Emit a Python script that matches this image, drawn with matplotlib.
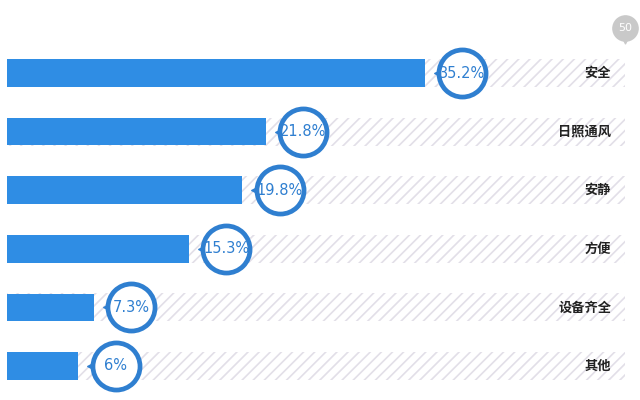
import matplotlib
matplotlib.use('Agg')
from matplotlib import pyplot as plt
from matplotlib.transforms import offset_copy

plt.rcParams['font.family'] = ['Noto Sans CJK SC', 'DejaVu Sans']
plt.rcParams['hatch.linewidth'] = 1.2

## Data ##
categories = ['安全', '日照通风', '安静', '方便', '设备齐全', '其他']
values = [35.2, 21.8, 19.8, 15.3, 7.3, 6]
value_labels = ['35.2%', '21.8%', '19.8%', '15.3%', '7.3%', '6%']
max_label = '50'

bar_color = '#2f8de4'
ring_color = '#2f7fd0'
hatch_color = '#e2dfe8'

## Plotting ##
fig = plt.figure(figsize=(6.4, 4.0), dpi=100)
ax = fig.add_axes([0, 0, 1, 1])
px = 11.87  # pixels per unit
ax.set_xlim(-7 / px, (640 - 7) / px)
row = 58.6
ax.set_ylim((400 - 73) / row, -73 / row)
ax.axis('off')

track_end = (625 - 7) / px
ys = list(range(len(values)))

# hatched background tracks
ax.barh(ys, [track_end] * len(ys), height=0.48, color='white',
        edgecolor=hatch_color, hatch='///', linewidth=0, zorder=1)

# value bars
ax.barh(ys, values, height=0.47, color=bar_color, zorder=2)

# circles with values
trans = offset_copy(ax.transData, fig=fig, x=27, y=0, units='points')
trans_tip = offset_copy(ax.transData, fig=fig, x=9.5, y=0, units='points')
ax.scatter(values, ys, s=1150, marker='o', facecolor='white',
           edgecolor=ring_color, linewidth=3.4, transform=trans, zorder=4)
ax.scatter(values, ys, s=30, marker='<', color=ring_color,
           transform=trans_tip, zorder=3)
for v, y, lab in zip(values, ys, value_labels):
    ax.text(v, y, lab, transform=trans, ha='center', va='center',
            fontsize=10.5, color=ring_color, family='DejaVu Sans', zorder=5)

# category labels
trans_lab = offset_copy(ax.transData, fig=fig, x=-10, y=0, units='points')
for y, c in zip(ys, categories):
    ax.text(track_end, y, c, transform=trans_lab, ha='right', va='center',
            fontsize=9.5, fontweight='bold', color='#222222', zorder=5)

# max marker
ax.scatter([track_end], [-0.77], s=330, marker='o', color='#c9c9c9', zorder=5,
           clip_on=False)
ax.scatter([track_end], [-0.58], s=40, marker='v', color='#c9c9c9', zorder=5)
ax.text(track_end, -0.77, max_label, ha='center', va='center', fontsize=8,
        color='white', family='DejaVu Sans', zorder=6)

fig.savefig('out.png', dpi=100)
